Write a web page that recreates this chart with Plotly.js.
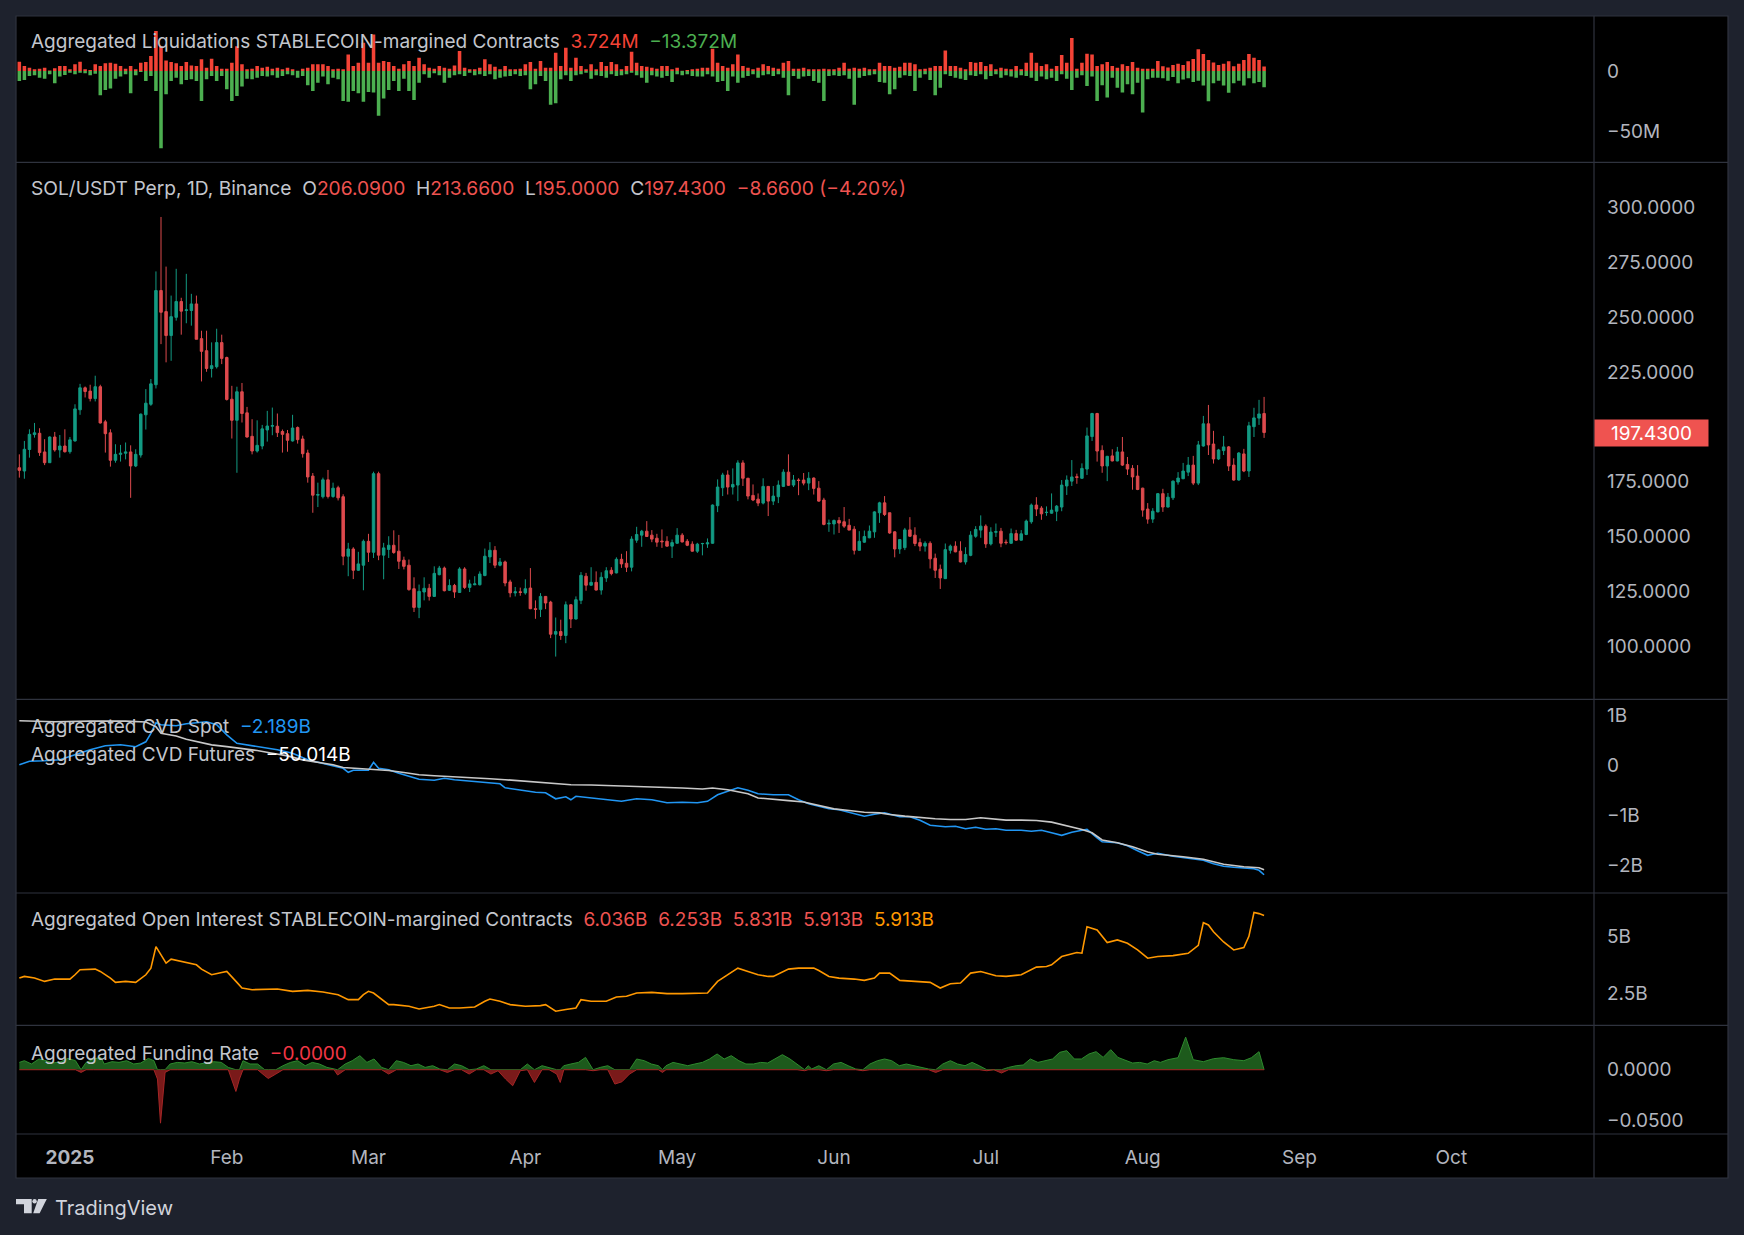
<!DOCTYPE html>
<html><head><meta charset="utf-8">
<script src="https://cdn.plot.ly/plotly-3.0.1.min.js"></script>
<style>html,body{margin:0;padding:0;background:#1e222d;}#chart{width:1744px;height:1235px;}</style>
</head><body><div id="chart"></div><script>
// ---------- DATA (daily, index 0 = 2024-12-22) ----------
const monthTickIdx = [10,41,69,100,130,161,191,222,253,283];
const monthTickText = ['<b>2025</b>','Feb','Mar','Apr','May','Jun','Jul','Aug','Sep','Oct'];

const open = [181.4,179.9,189.7,196.5,197.1,188.6,183.7,195.4,189.5,191.3,
188.7,193.6,207.8,217.8,216.3,212.9,218.3,202.3,197.3,184.8,
187.5,188.0,188.6,182.2,187.2,205.5,210.3,219.2,262.1,252.5,
241.6,249.9,257.1,253.0,253.0,256.0,240.2,234.7,226.6,227.4,
238.4,231.6,212.6,203.0,216.0,206.4,195.7,189.0,191.3,198.6,
200.3,200.3,197.9,196.9,193.6,199.7,194.5,188.1,177.6,168.9,
168.2,175.9,168.3,172.3,168.2,141.1,144.4,134.7,137.0,147.9,
142.9,178.7,141.6,144.2,146.1,143.4,139.3,137.0,126.3,117.8,
124.8,126.5,122.8,132.7,135.7,125.6,127.8,124.6,135.3,126.9,
128.1,128.1,132.3,140.8,143.8,137.0,138.5,129.4,124.4,124.9,
124.4,126.6,117.2,116.9,122.8,120.2,105.6,106.8,105.0,119.0,
112.5,121.0,132.0,127.9,129.2,125.7,131.2,134.7,133.5,139.7,
137.9,136.1,148.4,150.7,152.5,150.7,149.3,148.0,147.9,145.7,
147.0,150.7,147.9,146.6,143.4,146.8,146.7,147.0,164.1,172.3,
178.1,172.6,173.5,183.6,176.6,168.8,167.1,165.3,172.9,166.2,
168.2,172.9,179.4,173.5,175.8,175.8,174.4,176.7,172.1,166.7,
155.8,155.8,157.4,156.8,155.2,153.4,143.8,147.5,149.5,152.2,
160.9,165.4,160.9,152.2,144.4,145.0,153.1,150.7,147.3,145.7,
147.0,140.2,135.2,130.9,143.8,145.7,143.4,138.5,141.5,150.2,
153.0,154.8,146.7,152.0,152.5,147.5,147.0,151.4,148.4,151.0,
156.8,164.4,163.0,161.0,160.7,161.6,163.5,173.1,175.3,177.3,
176.6,180.8,195.6,206.1,189.3,182.2,186.8,184.5,188.6,182.9,
181.1,177.6,172.1,162.6,158.0,161.3,169.6,163.5,167.7,174.9,
176.4,179.4,182.6,174.4,191.3,201.4,192.2,185.4,189.2,190.9,
182.6,175.8,187.7,179.9,200.1,204.0,206.09];
const high = [187.5,193.6,198.9,201.8,199.4,194.4,195.7,197.7,196.3,198.9,
195.4,210.3,219.6,218.4,219.2,223.3,219.2,203.2,198.9,192.1,
191.8,192.9,191.6,189.8,206.1,217.2,221.8,270.8,295.6,273.0,
259.8,272.0,258.8,269.7,260.6,259.8,243.8,243.8,238.5,244.7,
242.0,232.0,218.7,218.3,220.0,209.1,203.5,203.0,200.9,207.3,
208.8,206.1,198.8,198.6,205.5,200.2,196.0,189.6,179.0,174.6,
176.9,180.4,174.6,173.2,169.3,147.2,145.2,143.1,148.7,151.3,
179.6,179.6,147.2,150.2,152.9,150.8,140.9,139.6,131.5,128.2,
131.5,128.5,136.5,136.7,136.4,130.6,128.5,136.1,136.1,130.4,
132.0,134.2,144.6,147.5,145.7,140.3,139.1,130.4,127.1,126.8,
130.6,135.7,121.0,124.3,123.0,120.8,113.2,112.2,120.5,119.2,
122.8,133.9,133.5,136.1,134.2,133.8,136.1,136.1,140.6,142.2,
143.4,150.2,154.5,153.1,157.1,153.0,151.3,153.3,150.2,148.7,
153.9,151.6,148.9,147.9,147.2,147.2,149.2,164.7,176.1,179.1,
180.2,181.1,184.8,184.8,176.8,173.8,169.7,176.6,173.1,173.1,
175.6,180.7,187.5,178.1,176.6,179.0,179.4,177.0,175.3,167.7,
157.8,157.8,158.9,163.5,158.1,154.8,152.5,152.8,155.1,161.6,
165.9,168.5,160.9,152.5,148.9,154.0,158.9,154.3,149.2,147.9,
147.9,142.3,137.3,146.9,146.4,147.9,147.9,145.2,152.5,154.8,
159.7,155.6,154.3,156.0,154.0,148.7,153.7,153.1,153.0,157.8,
165.1,168.0,163.9,163.8,169.7,164.4,175.8,177.9,184.9,178.7,
183.4,199.7,206.4,206.4,191.6,186.8,189.8,190.9,195.4,186.3,
182.6,182.6,172.3,165.3,163.0,169.9,171.8,169.9,175.6,179.4,
183.6,186.3,186.8,193.6,205.0,210.0,198.2,190.0,195.9,191.3,
185.7,188.5,190.0,202.3,208.7,212.3,213.66];
const low = [176.9,176.4,186.0,195.1,186.8,182.6,183.7,188.7,186.0,188.3,
187.8,193.3,205.5,213.4,211.6,211.6,201.5,188.3,181.9,183.7,
184.2,185.2,167.7,181.7,186.0,198.8,209.6,217.5,237.7,229.4,
230.1,248.4,242.0,247.2,246.1,239.9,220.7,225.1,222.5,226.6,
228.6,212.0,194.7,179.1,202.0,195.1,187.5,188.3,189.8,193.3,
196.2,195.4,188.3,188.7,193.3,192.4,186.0,174.6,160.9,163.5,
167.4,167.4,167.7,166.5,137.0,132.0,130.7,134.4,125.6,138.5,
140.3,139.3,130.6,140.3,142.2,135.3,135.1,125.4,115.7,112.9,
121.0,120.9,122.6,132.4,125.1,125.3,122.1,124.4,126.2,124.8,
127.9,127.8,132.0,138.0,135.7,136.5,127.4,122.4,122.8,123.1,
123.6,117.0,112.6,113.4,117.0,103.8,95.4,103.0,101.5,108.4,
112.3,119.3,125.4,127.7,125.5,123.6,129.4,132.4,133.3,135.8,
133.9,134.2,147.2,145.4,149.9,147.5,145.4,144.9,145.5,140.3,
146.8,147.4,145.7,143.2,142.6,141.5,144.9,146.8,161.2,168.5,
169.2,169.2,166.2,173.1,167.0,166.2,163.9,164.7,159.4,164.4,
165.3,172.6,173.1,172.6,168.9,173.4,171.2,169.2,165.9,155.2,
152.2,151.0,151.7,154.0,153.0,141.9,143.6,147.2,149.3,149.5,
156.3,159.4,151.3,140.6,142.2,143.9,149.9,145.7,143.4,143.2,
135.5,131.2,126.2,130.7,142.3,142.9,138.3,137.3,141.1,149.5,
149.5,144.9,146.0,149.9,145.2,146.4,146.8,148.1,148.2,150.7,
155.9,159.4,157.7,159.5,160.5,157.1,161.6,169.0,173.1,174.1,
176.3,178.1,193.6,184.2,179.1,175.3,184.3,184.3,182.2,178.1,
171.4,171.2,159.1,155.9,156.3,161.1,161.3,163.3,166.7,173.7,
176.2,177.6,173.5,173.5,191.0,187.2,183.3,184.9,187.2,179.9,
175.5,175.5,179.4,177.2,195.4,200.9,195.0];
const close = [180.2,189.8,196.6,197.3,188.3,183.7,195.4,189.5,191.3,188.7,
194.1,208.2,217.8,216.1,212.9,218.3,201.8,196.9,184.8,187.5,
188.0,188.6,182.2,187.5,205.8,210.8,219.6,262.1,252.2,241.6,
250.2,257.1,252.7,253.3,256.0,239.9,234.4,226.6,227.9,238.4,
231.2,212.5,203.0,216.0,206.1,195.4,189.0,191.6,199.1,200.4,
200.6,197.4,196.6,193.9,199.5,194.2,187.8,177.2,168.9,169.2,
175.9,168.3,172.1,167.7,141.1,144.4,134.7,137.6,147.9,142.9,
178.7,141.6,144.9,146.1,142.8,138.8,136.5,125.9,117.8,125.1,
126.5,122.8,133.3,135.7,125.4,127.8,124.8,135.3,126.9,128.5,
128.5,133.0,141.1,143.8,137.0,138.5,128.9,124.4,124.9,124.6,
126.3,117.2,116.9,122.8,119.8,105.6,106.8,105.0,119.0,112.5,
121.3,132.4,127.9,129.2,125.7,131.5,134.5,133.2,139.7,137.6,
136.1,148.9,151.0,152.5,150.1,148.9,147.5,147.7,145.7,147.3,
150.7,147.6,146.1,143.4,146.6,146.9,147.2,164.4,172.6,178.1,
172.6,173.8,183.6,176.6,168.5,166.7,165.3,172.9,166.2,168.5,
173.5,179.4,173.4,175.8,175.6,174.4,176.6,172.0,166.2,155.6,
156.1,157.4,156.2,154.8,153.0,143.8,147.9,150.1,152.5,161.3,
165.4,160.1,151.7,144.4,148.7,153.1,150.2,146.9,145.7,147.0,
139.9,134.7,131.2,144.1,145.7,143.1,138.5,141.9,150.7,153.3,
154.8,146.7,152.1,152.3,147.0,147.3,151.4,148.4,151.3,157.1,
164.4,162.6,160.4,161.1,162.1,163.9,173.5,175.8,177.2,177.0,
181.1,195.9,206.1,189.0,182.2,186.6,184.5,188.6,182.6,180.8,
177.2,171.5,162.1,158.0,161.6,169.6,163.5,168.0,175.3,176.7,
179.9,182.6,174.4,191.8,201.4,191.8,185.4,189.5,190.9,182.2,
175.8,188.1,179.9,200.5,204.1,205.9,197.43];

// Liquidations (million USD): long (red, up) and short (green, down)
const liqLong = [7.6,4.1,2.7,1.4,1.9,2.7,0.5,2.2,4.1,4.1,
1.4,5.5,7.6,1.4,0.8,5.5,4.1,6.3,6.8,6.0,
4.1,1.9,4.1,1.4,6.8,7.4,12.3,33.0,20.5,8.7,
7.4,6.3,4.1,7.4,4.6,4.1,9.6,2.7,10.1,4.1,
1.9,1.9,6.8,20.5,5.5,1.4,1.9,4.1,2.7,3.5,
1.9,2.7,1.4,2.7,1.4,0.3,1.9,2.7,5.5,5.5,
5.5,4.1,1.4,1.9,1.4,13.7,4.1,6.8,23.2,6.8,
30.0,6.8,8.2,7.4,4.1,1.9,5.5,8.2,4.1,10.9,
5.5,2.7,1.9,4.1,2.7,1.9,4.6,16.4,2.7,1.4,
1.4,2.7,9.6,5.5,3.5,1.4,4.1,1.4,1.4,1.9,
5.5,7.4,1.9,8.2,2.7,2.7,15.0,4.1,19.1,2.7,
10.9,4.1,1.4,5.5,1.4,7.4,4.1,7.4,5.5,1.4,
4.1,15.8,6.8,4.1,3.5,2.7,1.9,4.1,4.1,1.4,
2.7,0.3,0.8,1.4,1.9,2.7,2.7,18.3,6.8,4.1,
2.7,5.5,13.7,4.1,2.7,1.4,2.7,5.5,4.1,2.7,
1.9,6.8,8.2,1.9,1.9,2.7,1.4,1.4,1.4,1.9,
1.4,1.4,2.7,6.8,1.9,2.7,1.9,2.7,1.4,1.4,
6.8,4.1,4.1,2.7,3.5,6.8,6.8,5.5,1.4,1.9,
2.7,4.1,4.1,16.9,4.1,4.1,2.7,1.4,7.4,6.8,
7.4,4.1,5.5,1.4,2.7,1.9,1.4,4.1,1.4,6.8,
15.0,6.8,4.1,5.5,1.9,4.1,13.1,6.8,27.3,1.9,
6.8,14.2,13.7,4.1,5.5,7.4,4.1,2.7,5.5,4.1,
7.4,2.7,1.9,1.9,1.9,8.2,4,3,5,6,
5,8,10,18,14,9,7,5,6,8,
4,6,9,14,11,9,3.724];
const liqShort = [-8.2,-7.4,-4.1,-3.5,-5.5,-6.3,-2.7,-10.1,-4.6,-3.3,
-1.4,-2.7,-1.4,-1.9,-3.5,-2.2,-19.9,-15.6,-14.5,-6.3,
-4.6,-2.7,-18.3,-3.5,-0.8,-8.2,-4.1,-16.4,-63.6,-19.1,
-8.2,-5.5,-10.9,-7.4,-6.8,-8.2,-24.6,-6.8,-4.1,-8.2,
-4.1,-15.0,-24.6,-20.5,-12.8,-6.3,-6.8,-5.5,-4.1,-4.6,
-3.5,-5.5,-4.1,-2.7,-3.5,-5.5,-4.1,-11.7,-16.4,-9.6,
-4.6,-10.9,-5.5,-6.8,-24.6,-25.4,-16.4,-18.3,-25.4,-17.2,
-17.7,-36.9,-22.7,-15.6,-8.2,-16.4,-6.3,-16.4,-23.8,-9.6,
-2.7,-5.5,-1.9,-3.5,-9.6,-5.5,-3.5,-2.7,-4.1,-1.4,
-3.5,-2.7,-4.1,-2.7,-6.8,-5.5,-4.6,-4.1,-2.7,-4.1,
-3.5,-15.0,-10.9,-4.1,-8.2,-27.8,-26.5,-6.8,-3.5,-8.2,
-3.5,-2.7,-1.4,-6.3,-3.5,-4.1,-5.5,-2.7,-4.1,-3.5,
-2.7,-1.4,-3.5,-5.5,-9.6,-3.5,-4.6,-5.5,-4.1,-9.0,
-2.7,-3.5,-2.7,-4.1,-4.6,-4.6,-2.7,-4.6,-9.0,-8.2,
-16.4,-4.6,-9.6,-5.5,-4.1,-2.7,-5.5,-3.5,-2.7,-4.1,
-2.7,-5.5,-19.9,-4.1,-6.3,-4.6,-4.1,-8.2,-9.6,-24.6,
-4.1,-3.5,-4.1,-3.5,-6.3,-27.8,-5.5,-4.1,-3.5,-2.7,
-9.0,-9.6,-19.1,-15.0,-5.5,-3.5,-4.1,-16.4,-5.5,-2.7,
-7.4,-19.9,-13.7,-2.7,-4.1,-5.5,-6.3,-7.4,-3.5,-4.1,
-2.7,-6.8,-4.1,-2.7,-5.5,-3.5,-4.6,-5.5,-3.5,-4.1,
-5.5,-8.2,-4.6,-6.8,-5.5,-8.2,-2.7,-6.3,-15.6,-5.5,
-3.5,-12.3,-4.6,-24.6,-11.7,-21.8,-5.5,-13.7,-17.7,-10.9,
-19.1,-9.6,-34.1,-6.8,-5.5,-5.5,-6,-8,-5,-10,
-7,-6,-9,-8,-12,-25,-10,-8,-12,-18,
-10,-8,-12,-6,-10,-9,-13.372];

// Aggregated CVD Spot (billions)
const cvdSpotDay = [0,2,5,8,11,14,17,20,23,25,26,27,28,31,33,35,37,39,41,43,46,49,51,54,57,59,61,64,65,66,
69,70,71,73,75,77,79,82,84,86,89,92,95,96,99,102,104,106,108,109,110,113,116,119,122,125,128,131,134,136,
138,140,142,144,146,149,152,154,156,158,160,162,164,167,169,171,174,176,178,180,183,185,187,189,191,193,195,198,200,202,
204,206,208,211,213,214,217,219,221,223,224,225,228,231,234,236,238,240,242,244,245,246];
const cvdSpot = [0.01,0.08,0.09,0.11,0.21,0.31,0.39,0.41,0.37,0.47,0.64,0.85,0.81,0.79,0.83,0.85,0.87,0.81,0.61,0.44,
0.39,0.34,0.31,0.24,0.11,0.06,0.01,-0.06,-0.14,-0.10,-0.10,0.06,-0.06,-0.09,-0.16,-0.22,-0.28,-0.30,-0.26,-0.29,
-0.32,-0.34,-0.37,-0.45,-0.49,-0.54,-0.55,-0.67,-0.63,-0.69,-0.62,-0.65,-0.69,-0.72,-0.67,-0.69,-0.75,-0.74,-0.75,-0.72,
-0.59,-0.52,-0.45,-0.50,-0.57,-0.59,-0.59,-0.69,-0.77,-0.82,-0.87,-0.89,-0.94,-1.02,-0.98,-0.95,-1.03,-1.03,-1.10,-1.20,
-1.23,-1.22,-1.27,-1.24,-1.28,-1.27,-1.30,-1.30,-1.32,-1.30,-1.35,-1.40,-1.34,-1.28,-1.45,-1.53,-1.55,-1.61,-1.71,-1.80,
-1.78,-1.76,-1.82,-1.86,-1.90,-1.97,-2.02,-2.04,-2.05,-2.07,-2.10,-2.189];
// Aggregated CVD Futures (billions, own hidden scale)
const cvdFutDay = [0,7,14,21,25,27,28,31,33,36,38,41,44,47,50,53,56,59,62,64,67,70,73,76,79,82,85,87,90,93,
96,100,105,109,113,118,122,126,131,135,137,140,144,146,149,152,155,158,161,164,167,170,172,175,178,181,184,187,190,193,
195,198,201,204,207,210,212,214,217,220,223,225,230,234,238,242,245,246];
const cvdFut = [-5.30,-5.60,-5.40,-5.40,-5.69,-7.08,-9.06,-9.86,-10.86,-11.85,-12.54,-13.05,-13.55,-14.24,-15.03,-15.83,-17.03,-17.82,-18.51,-19.31,
-19.61,-19.71,-20.21,-20.81,-21.50,-21.80,-21.99,-22.19,-22.29,-22.68,-22.98,-23.48,-24.18,-24.48,-24.57,-24.78,-24.98,-25.28,-25.47,-25.77,
-25.47,-25.97,-27.17,-28.46,-28.95,-29.25,-29.66,-30.75,-31.74,-32.24,-32.73,-32.93,-33.42,-33.92,-34.41,-34.71,-34.91,-34.91,-34.41,-34.91,
-35.12,-35.12,-35.21,-35.70,-36.71,-37.89,-38.90,-41.07,-41.88,-43.07,-44.66,-45.35,-46.11,-46.86,-48.36,-49.11,-49.41,-50.014];

// Aggregated Open Interest (billions)
const oiDay = [0,1,3,5,7,10,11,12,15,16,18,19,21,23,25,26,27,28,29,30,32,33,35,36,38,40,41,43,44,46,
48,51,54,57,60,63,65,67,68,69,70,72,73,74,77,79,82,83,85,87,90,92,93,95,97,100,103,104,106,108,
110,111,113,116,118,120,122,125,128,131,134,136,138,140,142,144,146,148,149,152,154,157,158,160,162,165,167,169,170,172,
174,177,180,182,184,186,188,190,193,195,198,201,203,204,206,209,210,211,213,215,217,219,221,223,225,228,231,233,234,235,
236,238,240,242,243,244,245,246];
const oiVal = [3.158,3.231,3.158,3.012,3.114,3.114,3.304,3.523,3.553,3.450,3.158,2.968,3.012,2.968,3.304,3.597,4.547,4.181,3.816,3.991,
3.889,3.845,3.743,3.553,3.304,3.406,3.450,2.968,2.719,2.646,2.646,2.675,2.573,2.617,2.544,2.427,2.208,2.208,2.427,2.573,
2.500,2.135,1.988,1.988,1.915,1.798,1.915,1.988,1.842,1.842,1.886,2.135,2.237,2.135,1.988,1.915,1.945,1.988,1.696,1.769,
1.842,2.208,2.135,2.135,2.325,2.354,2.500,2.529,2.471,2.471,2.471,2.500,3.012,3.304,3.597,3.450,3.304,3.231,3.231,3.553,
3.597,3.597,3.494,3.231,3.158,3.114,3.056,3.158,3.377,3.377,3.056,3.012,2.968,2.719,2.909,2.939,3.377,3.450,3.260,3.231,
3.304,3.640,3.670,3.743,4.108,4.284,4.254,5.424,5.278,4.722,4.839,4.693,4.401,4.035,4.108,4.15,4.25,4.6,5.6,5.5,
5.2,4.75,4.40,4.50,5.0,6.05,6.0,5.913];

// Aggregated Funding Rate
const fundDay = [0,1.0,2.4,3.9,5.3,6.7,8.2,9.6,11.1,12.2,13.2,14.7,16.1,16.8,18.3,19.7,21.2,22.6,24.0,25.5,
26.6,27.3,27.9,28.8,29.8,31.2,32.7,34.1,35.6,37.0,38.4,39.9,41.3,42.8,43.5,44.2,45.6,47.1,48.5,49.2,
50.7,52.1,53.6,55.0,56.5,57.9,59.3,60.8,62.2,62.9,64.4,65.8,67.3,68.7,70.1,71.6,73.0,74.5,75.9,77.4,
78.8,80.2,81.7,83.1,84.6,86.0,87.4,88.9,90.3,91.8,93.2,94.6,96.1,97.5,99.0,100.4,101.8,103.3,104.7,106.2,
106.9,107.6,109.0,110.5,111.9,113.4,114.8,116.3,117.7,119.1,120.6,122.0,123.5,124.9,126.3,127.1,127.8,129.2,130.7,132.1,
133.5,135.0,136.4,137.9,139.3,140.7,142.2,143.6,145.1,146.5,147.9,149.4,150.8,152.3,153.7,155.2,155.9,156.6,158.0,159.5,
160.9,162.4,163.8,165.3,166.7,168.1,169.6,171.0,172.4,173.9,175.3,176.8,178.2,179.7,181.1,182.5,184.0,185.4,186.9,188.3,
189.7,191.2,192.6,194.1,195.5,197.0,198.4,199.8,201.3,202.7,204.2,205.6,207.0,208.5,209.9,211.4,212.8,214.2,215.7,217.1,
218.6,220.0,221.4,222.9,224.3,225.5,227,229,230.5,232,234,236,238,240,242,243.5,245,246];
const fundVal = [0.0073,0.0090,0.0057,0.0107,0.0090,0.0067,0.0080,0.0113,0.0090,-0.0027,
0.0073,0.0107,0.0123,0.0057,0.0080,0.0073,0.0090,0.0057,0.0067,0.0113,
0.0090,-0.0093,-0.0533,-0.0027,0.0057,0.0073,0.0067,0.0080,0.0057,0.0067,
0.0080,0.0073,0.0023,-0.0217,-0.0093,0.0090,0.0057,0.0057,-0.0060,-0.0087,
-0.0043,0.0040,0.0073,0.0090,0.0040,0.0073,0.0057,0.0023,0.0007,-0.0053,
0.0057,0.0090,0.0140,0.0073,0.0107,0.0023,-0.0043,0.0090,0.0073,0.0040,
0.0057,0.0023,0.0040,0.0007,-0.0027,0.0057,0.0040,-0.0043,0.0007,0.0040,
-0.0043,-0.0010,-0.0093,-0.0160,-0.0010,0.0057,-0.0127,0.0040,0.0023,-0.0043,
-0.0127,0.0040,0.0057,0.0073,0.0123,-0.0010,0.0023,0.0040,-0.0143,-0.0120,
-0.0043,0.0107,0.0090,0.0057,0.0040,-0.0027,0.0040,0.0073,0.0057,0.0040,
0.0057,0.0073,0.0107,0.0157,0.0107,0.0140,0.0090,0.0057,0.0057,0.0073,
0.0067,0.0107,0.0150,0.0107,0.0057,-0.0010,0.0040,0.0007,0.0040,-0.0010,
0.0057,0.0073,0.0040,0.0007,-0.0010,0.0057,0.0090,0.0107,0.0090,0.0040,
0.0057,0.0040,0.0023,0.0007,-0.0027,0.0057,0.0090,0.0057,0.0040,0.0073,
0.0040,-0.0010,0.0000,-0.0033,0.0023,0.0040,0.0047,0.0107,0.0073,0.0090,
0.0107,0.0173,0.0190,0.0107,0.0107,0.0157,0.0180,0.0123,0.0200,0.0123,
0.0090,0.0067,0.0073,0.0057,0.0090,0.0073,0.010,0.012,0.0325,0.010,0.008,0.011,0.012,0.010,0.009,0.012,0.018,0.0];

// ---------- LAYOUT HELPERS ----------
const PL=17, PR=1594, PT=17, PB=1134;
const px = X => (X-PL)/(PR-PL);
const py = Y => (PB-Y)/(PB-PT);
const idx = open.map((_, i) => i);
const FONT = 'Inter, "Noto Sans", sans-serif';
const AX = '#b2b5be';
const GRAY = '#c3c6cd';
const RED = '#ef5350';

const traces = [
  {type:'bar', x:idx, y:liqLong, width:0.7, marker:{color:'#f44336'}, xaxis:'x', yaxis:'y'},
  {type:'bar', x:idx, y:liqShort, width:0.7, marker:{color:'#4caf50'}, xaxis:'x', yaxis:'y'},
  {type:'candlestick', x:idx, open:open, high:high, low:low, close:close, xaxis:'x', yaxis:'y2',
   increasing:{line:{color:'#139a83', width:1}, fillcolor:'#139a83'},
   decreasing:{line:{color:'#dd4a4d', width:1}, fillcolor:'#dd4a4d'}, whiskerwidth:0},
  {type:'scatter', mode:'lines', x:cvdFutDay, y:cvdFut, xaxis:'x', yaxis:'y4', line:{color:'#c8c8c8', width:1.6}},
  {type:'scatter', mode:'lines', x:cvdSpotDay, y:cvdSpot, xaxis:'x', yaxis:'y3', line:{color:'#2196f3', width:1.6}},
  {type:'scatter', mode:'lines', x:oiDay, y:oiVal, xaxis:'x', yaxis:'y5', line:{color:'#ff9800', width:1.6}},
  {type:'scatter', mode:'lines', x:fundDay, y:fundVal.map(v=>Math.max(v,0)), xaxis:'x', yaxis:'y6', fill:'tozeroy',
   fillcolor:'#1d5a1c', line:{color:'#2e8b2e', width:1}},
  {type:'scatter', mode:'lines', x:fundDay, y:fundVal.map(v=>Math.min(v,0)), xaxis:'x', yaxis:'y6', fill:'tozeroy',
   fillcolor:'#7a1a1a', line:{color:'#a52626', width:1}}
];

const yBase = {side:'right', anchor:'x', showgrid:false, zeroline:false, showline:false, ticks:'',
  ticklabelstandoff:12, tickfont:{family:FONT, size:19, color:AX}, fixedrange:true};
const MINUS = '\u2212';

const layout = {
  width:1744, height:1235, paper_bgcolor:'#1e222d', plot_bgcolor:'#000000',
  margin:{l:PL, r:1744-PR, t:PT, b:1235-PB, pad:0}, showlegend:false, barmode:'overlay', hovermode:false,
  xaxis:{anchor:'y6', range:[-0.46, 311.2], showgrid:false, zeroline:false, showline:false, ticks:'',
    tickvals:monthTickIdx, ticktext:monthTickText, tickfont:{family:FONT, size:19, color:AX},
    ticklabelstandoff:10, rangeslider:{visible:false}, fixedrange:true},
  yaxis:Object.assign({}, yBase, {domain:[py(162.3),1], range:[-75.2,44.5], tickvals:[0,-50], ticktext:['0',MINUS+'50M']}),
  yaxis2:Object.assign({}, yBase, {domain:[py(699.4),py(162.3)], range:[75.9,320.5], tickvals:[100,125,150,175,200,225,250,275,300], tickformat:'.4f'}),
  yaxis3:Object.assign({}, yBase, {domain:[py(893),py(699.4)], range:[-2.554,1.318], tickvals:[1,0,-1,-2], ticktext:['1B','0',MINUS+'1B',MINUS+'2B']}),
  yaxis4:{overlaying:'y3', anchor:'x', range:[-56.97,1.11], visible:false, fixedrange:true},
  yaxis5:Object.assign({}, yBase, {domain:[py(1025.3),py(893)], range:[1.076,6.909], tickvals:[5,2.5], ticktext:['5B','2.5B']}),
  yaxis6:Object.assign({}, yBase, {domain:[0,py(1025.3)], range:[-0.0641,0.0443], tickvals:[0,-0.05], ticktext:['0.0000',MINUS+'0.0500']}),
  shapes:[], annotations:[]
};

const SEP = '#2f333e';
layout.shapes.push({type:'rect', xref:'paper', yref:'paper', x0:px(16), x1:px(1728), y0:py(1178), y1:py(16), fillcolor:'#000', line:{width:0}, layer:'below'});
layout.shapes.push({type:'rect', xref:'paper', yref:'paper', x0:px(16), x1:px(1728), y0:py(1178), y1:py(16), line:{color:SEP, width:1.2}, layer:'above'});
[162.3, 699.4, 893, 1025.3, 1134].forEach(Y => layout.shapes.push({type:'line', xref:'paper', yref:'paper', x0:px(16), x1:px(1728), y0:py(Y), y1:py(Y), line:{color:SEP, width:1.2}, layer:'above'}));
layout.shapes.push({type:'line', xref:'paper', yref:'paper', x0:px(1594), x1:px(1594), y0:py(1178), y1:py(16), line:{color:SEP, width:1.2}, layer:'above'});

// TradingView logo
const poly = pts => 'M ' + pts.map(p => px(p[0]) + ',' + py(p[1])).join(' L ') + ' Z';
const LOGO = '#d1d4dc';
layout.shapes.push({type:'path', xref:'paper', yref:'paper', path:poly([[16,1199],[31.7,1199],[31.7,1213.3],[24,1213.3],[24,1204.3],[16,1204.3]]), fillcolor:LOGO, line:{width:0}});
layout.shapes.push({type:'circle', xref:'paper', yref:'paper', x0:px(32.4), x1:px(36.8), y0:py(1203.4), y1:py(1199), fillcolor:LOGO, line:{width:0}});
layout.shapes.push({type:'path', xref:'paper', yref:'paper', path:poly([[38.2,1199],[46.8,1199],[39.6,1213.3],[33.2,1213.3]]), fillcolor:LOGO, line:{width:0}});

const ann = (X, Y, text, size, color, extra) => Object.assign({xref:'paper', yref:'paper', x:px(X), y:py(Y), xanchor:'left', yanchor:'middle',
  text:text, showarrow:false, font:{family:FONT, size:size, color:color}}, extra||{});
const sp = '\u00a0\u00a0';
const c = (col, t) => '<span style="color:' + col + '">' + t + '</span>';

layout.annotations.push(ann(29, 42, 'Aggregated Liquidations STABLECOIN-margined Contracts' + sp + c('#f44336','3.724M') + sp + c('#4caf50', MINUS+'13.372M'), 19, GRAY));
layout.annotations.push(ann(29, 188.3, 'SOL/USDT Perp, 1D, Binance' + sp + 'O' + c(RED,'206.0900') + sp + 'H' + c(RED,'213.6600') + sp + 'L' + c(RED,'195.0000') + sp + 'C' + c(RED,'197.4300') + sp + c(RED, MINUS+'8.6600 ('+MINUS+'4.20%)'), 19.2, GRAY));
layout.annotations.push(ann(29, 726.7, 'Aggregated CVD Spot' + sp + c('#2196f3', MINUS+'2.189B'), 19, GRAY));
layout.annotations.push(ann(29, 754, 'Aggregated CVD Futures' + sp + c('#ffffff', MINUS+'50.014B'), 19, GRAY));
layout.annotations.push(ann(29, 919.7, 'Aggregated Open Interest STABLECOIN-margined Contracts' + sp + c(RED,'6.036B') + sp + c(RED,'6.253B') + sp + c(RED,'5.831B') + sp + c(RED,'5.913B') + sp + c('#ff9800','5.913B'), 19, GRAY));
layout.annotations.push(ann(29, 1053, 'Aggregated Funding Rate' + sp + c('#f23645', MINUS+'0.0000'), 19, GRAY));
layout.annotations.push(ann(53, 1207.5, 'TradingView', 20, '#d1d4dc'));
// last price label on price scale
layout.annotations.push({xref:'paper', yref:'y2', x:1, y:close[close.length-1], xanchor:'left', yanchor:'middle',
  text:close[close.length-1].toFixed(4), showarrow:false, bgcolor:'#ef5350', width:113, height:26, borderpad:0,
  font:{family:FONT, size:19, color:'#ffffff'}});

Plotly.newPlot('chart', traces, layout, {displayModeBar:false, staticPlot:true});
</script></body></html>
